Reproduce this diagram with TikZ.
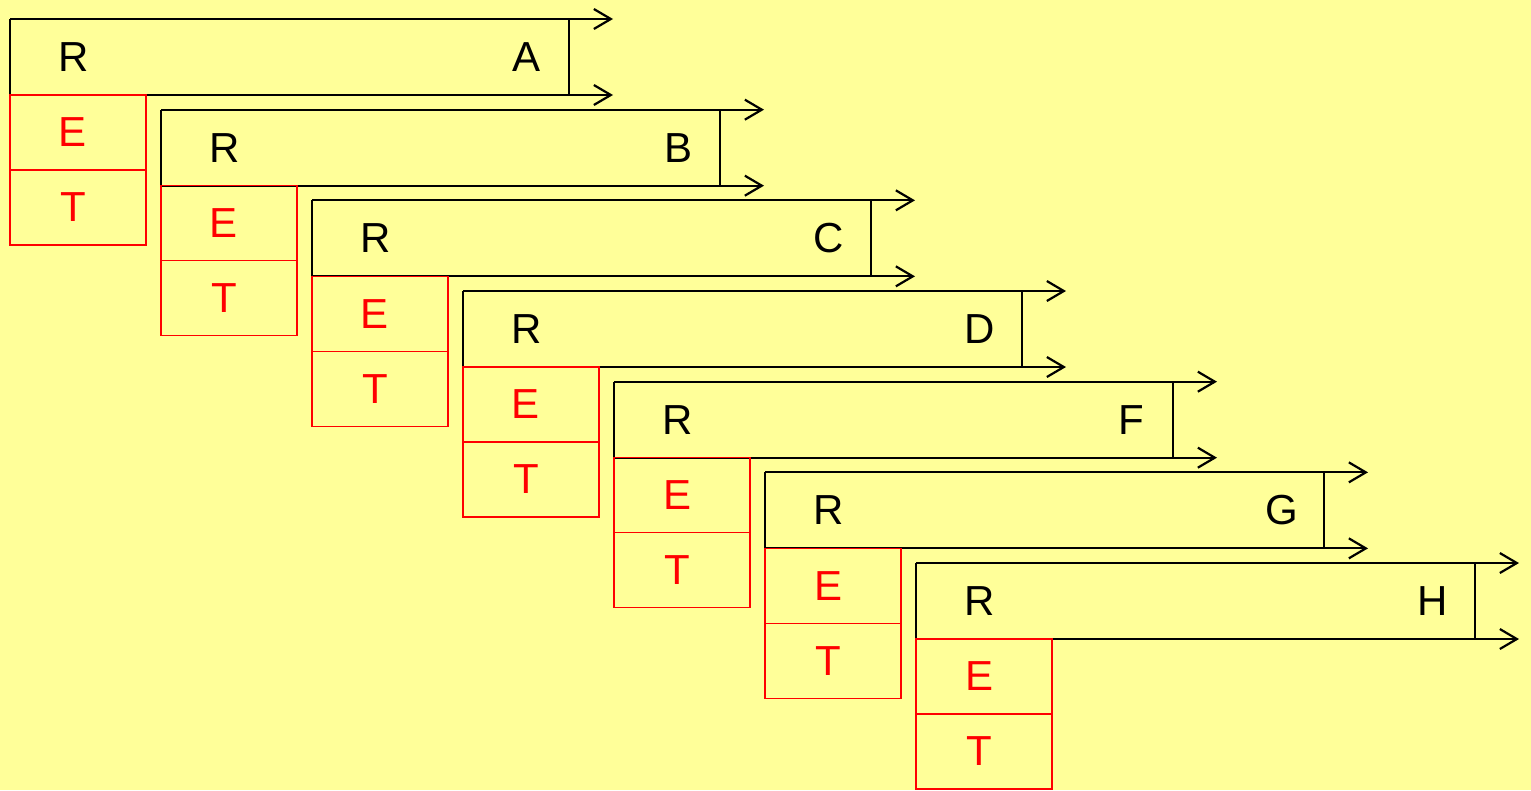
\documentclass[tikz,border=0pt]{standalone}
\usepackage{fontspec}
\setmainfont{Liberation Sans}
\usetikzlibrary{arrows.meta}
\definecolor{paper}{RGB}{255,255,153}

\tikzset{
  rbox/.style={anchor=north west,minimum width=559pt,minimum height=76pt,inner sep=0pt,outer sep=0pt},
  ebox/.style={draw=red,line width=1.6pt,text=red,anchor=north west,
    minimum width=136pt,minimum height=75pt,inner sep=0pt,outer sep=0pt},
  flow/.style={line width=2.2pt,-{Straight Barb[length=17pt,width=20pt]}},
  edge/.style={line width=2.2pt},
  thinedge/.style={line width=1.6pt}
}

\begin{document}
\begin{tikzpicture}[x=1pt,y=-1pt,every node/.style={font=\fontsize{42}{50}\selectfont}]
\fill[paper] (0,0) rectangle (1531,790);
\useasboundingbox (0,0) rectangle (1531,790);
\foreach \lab [count=\i] in {A,B,C,D,F,G,H} {
  \pgfmathsetmacro\px{10+151*(\i-1)}
  \pgfmathsetmacro\py{19+90.67*(\i-1)}
  \node[rbox] (r\i) at (\px,\py) {};
  \node[inner sep=0pt] (rin\i) at ([xshift=64]r\i.west) {R};
  \node[inner sep=0pt] (rout\i) at ([xshift=-42]r\i.east) {\lab};
  \coordinate (up\i) at ([xshift=603]r\i.north west);
  \coordinate (dn\i) at ([xshift=603]r\i.south west);
  \draw[flow] (r\i.north west) -- (up\i);
  \draw[flow] (r\i.south west) -- (dn\i);
  \draw[edge] (r\i.north west) -- (r\i.south west);
  \draw[thinedge] (r\i.north east) -- (r\i.south east);
  \node[ebox] (e\i) at (r\i.south west) {\hspace*{-10pt}E};
  \node[ebox] (t\i) at (e\i.south west) {\hspace*{-10pt}T};
}
\end{tikzpicture}
\end{document}
